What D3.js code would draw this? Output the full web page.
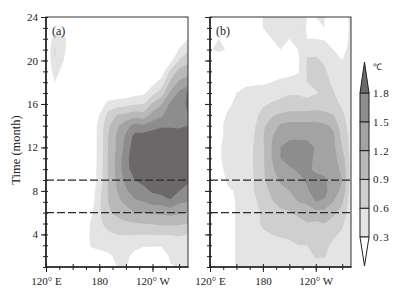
<!DOCTYPE html>
<html>
<head>
<meta charset="utf-8">
<script src="https://cdn.jsdelivr.net/npm/d3@7"></script>
<style>
  body { margin: 0; background: #fff; }
  svg { display: block; }
  text { font-family: "Liberation Serif", "Times New Roman", serif; fill: #222; }
</style>
</head>
<body>
<svg id="chart" width="399" height="297"></svg>
<script>
// grid: columns are longitudes, rows go from month 24 (top) down to month 1
const lons = [120,130,140,150,160,170,180,190,200,210,220,230,240,250,260,270,280];
const months = d3.range(24, 0, -1);
const levels = [0.3, 0.6, 0.9, 1.2, 1.5, 1.8];
const levelColors = ["#e4e4e4", "#cfcfcf", "#b9b9b9", "#a3a3a3", "#8d8d8d", "#6c686a"];
const yTicks = [4, 8, 12, 16, 20, 24];
const xTicks = [120, 180, 240];
const xTickLabels = ["120° E", "180", "120° W"];
const dashedMonths = [9, 6];

const fieldA = [
  [0,0,0,0,0,0,0,0,0,0,0,0,0,0,0,0,0],
  [0,.1,.1,0,0,0,0,0,0,0,0,0,0,0,0,0,.05],
  [0,.45,.4,0,0,0,0,0,0,0,0,0,0,0,0,.05,.3],
  [0,.62,.38,0,0,0,0,0,0,0,0,0,0,0,0,.32,.55],
  [0,.6,.3,0,0,0,0,0,0,0,0,0,0,0,.2,.62,.8],
  [0,.45,.15,0,0,0,0,0,0,0,0,0,0,.1,.65,1.0,1.1],
  [0,.3,.05,0,0,0,0,0,0,0,.05,.05,.2,.42,.95,1.25,1.35],
  [0,.05,0,0,0,0,0,.05,.1,.12,.2,.25,.5,.75,1.25,1.55,1.85],
  [0,0,0,0,0,0,.1,.4,.45,.5,.58,.6,.95,1.18,1.55,1.65,1.85],
  [0,0,0,0,0,.1,.3,.7,.9,.95,1.05,1.0,1.3,1.45,1.65,1.7,1.8],
  [0,0,0,0,0,.1,.38,.85,1.15,1.4,1.6,1.55,1.65,1.75,1.75,1.75,1.8],
  [0,0,0,0,0,.1,.38,.9,1.25,1.55,1.9,1.95,2.0,2.0,2.0,1.95,1.9],
  [0,0,0,0,0,.1,.38,.9,1.25,1.6,2.0,2.1,2.15,2.2,2.2,2.15,2.0],
  [0,0,0,0,0,.1,.38,.92,1.3,1.7,2.0,2.1,2.15,2.2,2.2,2.15,2.0],
  [0,0,0,0,0,.1,.4,.92,1.3,1.7,1.95,2.1,2.15,2.2,2.2,2.15,2.0],
  [0,0,0,0,0,.1,.4,.92,1.25,1.6,1.8,1.9,2.1,2.15,2.2,1.95,1.85],
  [0,0,0,0,0,.1,.5,.92,1.2,1.45,1.65,1.7,1.85,1.9,2.0,1.8,1.7],
  [0,0,0,0,0,.12,.55,.9,1.15,1.25,1.45,1.5,1.6,1.62,1.75,1.55,1.5],
  [0,0,0,0,0,.2,.55,.85,1.0,1.1,1.2,1.2,1.25,1.25,1.3,1.25,1.2],
  [0,0,0,0,0,.32,.55,.7,.75,.85,.88,.9,.92,.95,.95,.95,.9],
  [0,0,0,0,0,.33,.5,.55,.6,.62,.62,.6,.62,.62,.62,.65,.6],
  [0,0,0,0,0,.32,.38,.4,.38,.38,.38,.32,.32,.32,.35,.4,.4],
  [0,0,0,0,0,.2,.2,.25,.35,.36,.22,.2,.15,.18,.33,.35,.35],
  [0,0,0,0,0,.05,.1,.1,.3,.32,.15,.1,.1,.1,.28,.32,.3]
];

const fieldB = [
  [.1,.12,.12,.1,.1,.2,.3,.35,.35,.32,.35,.3,.3,.3,.2,.2,.35],
  [.1,.12,.12,.1,.1,.2,.3,.32,.35,.4,.62,.25,.28,.3,.2,.15,.35],
  [.1,.3,.2,.1,.1,.15,.2,.3,.32,.3,.4,.3,.3,.28,.25,.2,.35],
  [.28,.35,.28,.1,.1,.1,.1,.25,.3,.28,.3,.55,.5,.4,.3,.25,.35],
  [.1,.12,.12,.1,.1,.1,.1,.12,.2,.2,.25,.62,.65,.55,.35,.3,.38],
  [.1,.12,.12,.1,.1,.1,.1,.12,.2,.25,.28,.62,.68,.65,.45,.35,.4],
  [.1,.12,.12,.15,.22,.25,.25,.3,.35,.35,.38,.6,.65,.68,.55,.4,.4],
  [.1,.12,.12,.3,.4,.42,.45,.5,.55,.58,.58,.5,.58,.65,.62,.45,.42],
  [.1,.12,.2,.4,.45,.48,.55,.62,.65,.7,.7,.72,.75,.72,.7,.55,.45],
  [.1,.12,.35,.42,.45,.5,.7,.85,.95,1.0,1.0,1.0,1.02,.98,.9,.65,.45],
  [.1,.25,.35,.42,.45,.55,.85,1.05,1.25,1.3,1.3,1.3,1.3,1.25,1.15,.72,.48],
  [.1,.25,.35,.42,.45,.6,.88,1.18,1.35,1.45,1.45,1.45,1.42,1.35,1.25,.82,.5],
  [.1,.28,.35,.42,.45,.62,.85,1.2,1.5,1.6,1.62,1.6,1.48,1.35,1.28,.9,.5],
  [.1,.28,.35,.42,.45,.62,.85,1.2,1.5,1.62,1.65,1.6,1.45,1.35,1.3,1.05,.5],
  [.1,.25,.35,.42,.45,.62,.85,1.15,1.35,1.45,1.55,1.55,1.45,1.4,1.3,1.15,.5],
  [.1,.12,.35,.42,.45,.6,.85,1.05,1.25,1.3,1.4,1.55,1.6,1.55,1.3,1.2,.48],
  [.1,.12,.25,.33,.45,.6,.8,.95,1.1,1.2,1.3,1.45,1.65,1.6,1.3,1.15,.45],
  [.1,.12,.12,.33,.45,.55,.7,.88,.98,1.0,1.2,1.25,1.5,1.45,1.2,.95,.42],
  [.1,.12,.12,.33,.45,.5,.65,.75,.85,.88,.95,1.05,1.1,1.1,.95,.8,.42],
  [.1,.12,.12,.33,.45,.5,.65,.68,.72,.75,.82,.88,.85,.9,.8,.65,.4],
  [.1,.12,.12,.33,.45,.5,.55,.6,.62,.65,.68,.7,.72,.72,.65,.55,.4],
  [.1,.12,.12,.33,.42,.48,.5,.5,.55,.55,.6,.6,.62,.65,.55,.48,.38],
  [.1,.12,.12,.33,.4,.45,.45,.45,.45,.45,.5,.52,.62,.62,.48,.42,.38],
  [.1,.12,.12,.33,.35,.4,.4,.38,.38,.4,.42,.42,.5,.48,.4,.38,.35]
];

const svg = d3.select("#chart");
const plotTop = 17, plotBottom = 267;

const y = d3.scaleLinear().domain([1, 24]).range([plotBottom, plotTop]);
const color = d3.scaleOrdinal().domain(levels).range(levelColors);

function panel(field, left, right, label, id, showYLabels) {
  const x = d3.scaleLinear().domain([120, 280]).range([left, right]);
  const dLon = lons[1] - lons[0];

  svg.append("clipPath").attr("id", "clip" + id)
    .append("rect")
    .attr("x", left).attr("y", plotTop)
    .attr("width", right - left).attr("height", plotBottom - plotTop);

  const contours = d3.contours()
    .size([lons.length, months.length])
    .thresholds(levels)(field.flat());

  // grid cell i sits at i + 0.5 in contour coordinates
  const proj = d3.geoTransform({
    point: function(gx, gy) {
      this.stream.point(x(lons[0] + (gx - 0.5) * dLon), y(months[0] - (gy - 0.5)));
    }
  });
  const path = d3.geoPath(proj);

  svg.append("g")
    .attr("clip-path", `url(#clip${id})`)
    .selectAll("path")
    .data(contours)
    .enter()
    .append("path")
      .attr("d", path)
      .attr("fill", d => color(d.value))
      .attr("stroke", "none");

  dashedMonths.forEach(m => {
    svg.append("line")
      .attr("x1", left).attr("x2", right)
      .attr("y1", y(m)).attr("y2", y(m))
      .attr("stroke", "#2a2a2a")
      .attr("stroke-width", 1.2)
      .attr("stroke-dasharray", "8,3");
  });

  // frame
  svg.append("rect")
    .attr("x", left).attr("y", plotTop)
    .attr("width", right - left).attr("height", plotBottom - plotTop)
    .attr("fill", "none").attr("stroke", "#333").attr("stroke-width", 1);

  // left axis
  const yMajor = svg.append("g")
    .attr("transform", `translate(${left},0)`)
    .call(d3.axisLeft(y).tickValues(yTicks).tickSize(5).tickFormat(showYLabels ? d3.format("d") : ""));
  const yMinor = svg.append("g")
    .attr("transform", `translate(${left},0)`)
    .call(d3.axisLeft(y).tickValues(d3.range(1, 25)).tickSize(3).tickFormat(""));
  const yMinorIn = svg.append("g")
    .attr("transform", `translate(${left},0)`)
    .call(d3.axisRight(y).tickValues(d3.range(1, 25)).tickSize(2).tickFormat(""));

  // bottom axis
  const xMajor = svg.append("g")
    .attr("transform", `translate(0,${plotBottom})`)
    .call(d3.axisBottom(x).tickValues(xTicks).tickSize(5).tickPadding(5)
      .tickFormat((d, i) => xTickLabels[i]));
  const xMinor = svg.append("g")
    .attr("transform", `translate(0,${plotBottom})`)
    .call(d3.axisBottom(x).tickValues(d3.range(120, 281, 15)).tickSize(3).tickFormat(""));
  const xMid = svg.append("g")
    .attr("transform", `translate(0,${plotBottom})`)
    .call(d3.axisTop(x).tickValues(d3.range(120, 281, 30)).tickSize(3).tickFormat(""));

  [yMajor, yMinor, yMinorIn, xMajor, xMinor, xMid].forEach(g => {
    g.select(".domain").remove();
    g.selectAll("line").attr("stroke", "#222").attr("stroke-width", 1);
    g.selectAll("text")
      .attr("font-family", '"Liberation Serif", "Times New Roman", serif')
      .attr("font-size", 11)
      .attr("fill", "#222");
  });

  svg.append("line")
    .attr("x1", left).attr("x2", left).attr("y1", plotTop).attr("y2", plotBottom + 0.5)
    .attr("stroke", "#222").attr("stroke-width", 1.6);
  svg.append("line")
    .attr("x1", left - 0.5).attr("x2", right + 0.5).attr("y1", plotBottom).attr("y2", plotBottom)
    .attr("stroke", "#222").attr("stroke-width", 1.6);

  svg.append("text")
    .attr("x", left + 6)
    .attr("y", 35)
    .attr("font-size", 12)
    .text(label);
}

panel(fieldA, 46, 188, "(a)", "a", true);
panel(fieldB, 210, 351, "(b)", "b", false);

svg.append("text")
  .text("Time (month)")
  .attr("transform", "rotate(-90)")
  .attr("text-anchor", "middle")
  .attr("x", -150)
  .attr("y", 20)
  .attr("font-size", 12.5);

// colour bar
const cb = d3.scaleLinear().domain([0.3, 1.8]).range([237, 93]);
const cbLeft = 360, cbRight = 369, cbMid = (cbLeft + cbRight) / 2;
const bar = svg.append("g");

for (let i = 0; i < levels.length - 1; i++) {
  bar.append("rect")
    .attr("x", cbLeft).attr("y", cb(levels[i + 1]))
    .attr("width", cbRight - cbLeft)
    .attr("height", cb(levels[i]) - cb(levels[i + 1]))
    .attr("fill", color(levels[i]))
    .attr("stroke", "#222").attr("stroke-width", 1);
}
bar.append("path")
  .attr("d", `M${cbLeft},${cb(1.8)}L${cbMid},62L${cbRight},${cb(1.8)}Z`)
  .attr("fill", color(1.8)).attr("stroke", "#222").attr("stroke-width", 1);
bar.append("path")
  .attr("d", `M${cbLeft},${cb(0.3)}L${cbMid},266L${cbRight},${cb(0.3)}Z`)
  .attr("fill", "#fff").attr("stroke", "#222").attr("stroke-width", 1);

bar.selectAll("text.lv")
  .data(levels)
  .enter()
  .append("text")
    .attr("class", "lv")
    .attr("x", cbRight + 4)
    .attr("y", d => cb(d) + 4)
    .attr("font-size", 11)
    .attr("letter-spacing", 1)
    .text(d => d.toFixed(1));

bar.append("text")
  .attr("x", cbRight + 4)
  .attr("y", 70)
  .attr("font-size", 9)
  .attr("font-family", '"DejaVu Serif", serif')
  .text("℃");
</script>
</body>
</html>
